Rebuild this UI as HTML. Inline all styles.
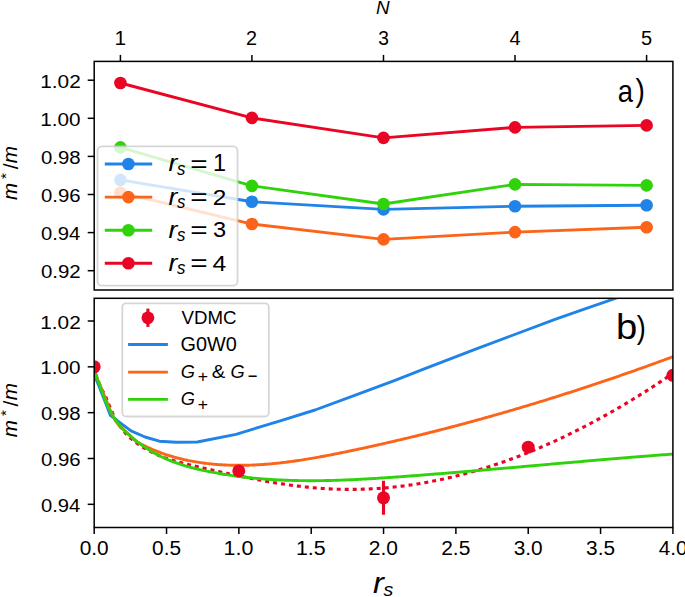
<!DOCTYPE html><html><head><meta charset="utf-8"><style>html,body{margin:0;padding:0;background:#fff;overflow:hidden}svg{display:block}</style></head><body><svg width="685" height="597" viewBox="0 0 685 597">
<rect width="685" height="597" fill="#fff"/>
<defs><clipPath id="ct"><rect x="94.20" y="61.40" width="578.70" height="228.60"/></clipPath>
<clipPath id="cb"><rect x="94.20" y="298.30" width="578.70" height="229.20"/></clipPath></defs>
<g clip-path="url(#ct)">
<polyline points="120.40,179.85 251.90,201.80 383.50,209.40 515.00,206.30 646.60,205.30" fill="none" stroke="#2083e8" stroke-width="2.9" stroke-linejoin="round" stroke-linecap="butt"/>
<circle cx="120.40" cy="179.85" r="6.3" fill="#2083e8"/>
<circle cx="251.90" cy="201.80" r="6.3" fill="#2083e8"/>
<circle cx="383.50" cy="209.40" r="6.3" fill="#2083e8"/>
<circle cx="515.00" cy="206.30" r="6.3" fill="#2083e8"/>
<circle cx="646.60" cy="205.30" r="6.3" fill="#2083e8"/>
<polyline points="120.40,192.50 251.90,224.05 383.50,239.40 515.00,232.10 646.60,227.30" fill="none" stroke="#fc6419" stroke-width="2.9" stroke-linejoin="round" stroke-linecap="butt"/>
<circle cx="120.40" cy="192.50" r="6.3" fill="#fc6419"/>
<circle cx="251.90" cy="224.05" r="6.3" fill="#fc6419"/>
<circle cx="383.50" cy="239.40" r="6.3" fill="#fc6419"/>
<circle cx="515.00" cy="232.10" r="6.3" fill="#fc6419"/>
<circle cx="646.60" cy="227.30" r="6.3" fill="#fc6419"/>
<polyline points="120.40,147.35 251.90,185.85 383.50,203.95 515.00,184.40 646.60,185.40" fill="none" stroke="#30d20c" stroke-width="2.9" stroke-linejoin="round" stroke-linecap="butt"/>
<circle cx="120.40" cy="147.35" r="6.3" fill="#30d20c"/>
<circle cx="251.90" cy="185.85" r="6.3" fill="#30d20c"/>
<circle cx="383.50" cy="203.95" r="6.3" fill="#30d20c"/>
<circle cx="515.00" cy="184.40" r="6.3" fill="#30d20c"/>
<circle cx="646.60" cy="185.40" r="6.3" fill="#30d20c"/>
<polyline points="120.40,83.00 251.90,117.90 383.50,137.90 515.00,127.40 646.60,125.40" fill="none" stroke="#ea0524" stroke-width="2.9" stroke-linejoin="round" stroke-linecap="butt"/>
<circle cx="120.40" cy="83.00" r="6.3" fill="#ea0524"/>
<circle cx="251.90" cy="117.90" r="6.3" fill="#ea0524"/>
<circle cx="383.50" cy="137.90" r="6.3" fill="#ea0524"/>
<circle cx="515.00" cy="127.40" r="6.3" fill="#ea0524"/>
<circle cx="646.60" cy="125.40" r="6.3" fill="#ea0524"/>
</g>
<rect x="97.5" y="146.4" width="140.00" height="139.30" rx="4.4" ry="4.4" fill="#fff" fill-opacity="0.8" stroke="#cccccc" stroke-opacity="0.8" stroke-width="1.8"/>
<line x1="104.8" y1="164.05" x2="152.2" y2="164.05" stroke="#2083e8" stroke-width="2.9"/>
<circle cx="128.4" cy="164.05" r="6.3" fill="#2083e8"/>
<text transform="translate(168.40,171.45) scale(1.1388,1)" style="font-family:'Liberation Sans',sans-serif;font-style:italic;font-size:23.33px" fill="#000">r</text>
<text transform="translate(176.92,174.97) scale(0.9366,1)" style="font-family:'Liberation Sans',sans-serif;font-style:italic;font-size:17.98px" fill="#000">s</text>
<text transform="translate(190.26,171.83) scale(1.2712,1)" style="font-family:'Liberation Sans',sans-serif;font-size:23.44px" fill="#000">=</text>
<text transform="translate(212.94,171.45) scale(1.0129,1)" style="font-family:'Liberation Sans',sans-serif;font-size:23.19px" fill="#000">1</text>
<line x1="104.8" y1="197.12" x2="152.2" y2="197.12" stroke="#fc6419" stroke-width="2.9"/>
<circle cx="128.4" cy="197.12" r="6.3" fill="#fc6419"/>
<text transform="translate(168.40,204.52) scale(1.1388,1)" style="font-family:'Liberation Sans',sans-serif;font-style:italic;font-size:23.33px" fill="#000">r</text>
<text transform="translate(176.92,208.04) scale(0.9366,1)" style="font-family:'Liberation Sans',sans-serif;font-style:italic;font-size:17.98px" fill="#000">s</text>
<text transform="translate(190.26,204.90) scale(1.2712,1)" style="font-family:'Liberation Sans',sans-serif;font-size:23.44px" fill="#000">=</text>
<text transform="translate(212.68,204.52) scale(1.0947,1)" style="font-family:'Liberation Sans',sans-serif;font-size:22.29px" fill="#000">2</text>
<line x1="104.8" y1="230.19" x2="152.2" y2="230.19" stroke="#30d20c" stroke-width="2.9"/>
<circle cx="128.4" cy="230.19" r="6.3" fill="#30d20c"/>
<text transform="translate(168.40,237.59) scale(1.1388,1)" style="font-family:'Liberation Sans',sans-serif;font-style:italic;font-size:23.33px" fill="#000">r</text>
<text transform="translate(176.92,241.11) scale(0.9366,1)" style="font-family:'Liberation Sans',sans-serif;font-style:italic;font-size:17.98px" fill="#000">s</text>
<text transform="translate(190.26,237.97) scale(1.2712,1)" style="font-family:'Liberation Sans',sans-serif;font-size:23.44px" fill="#000">=</text>
<text transform="translate(212.96,237.37) scale(1.0749,1)" style="font-family:'Liberation Sans',sans-serif;font-size:21.97px" fill="#000">3</text>
<line x1="104.8" y1="263.26" x2="152.2" y2="263.26" stroke="#ea0524" stroke-width="2.9"/>
<circle cx="128.4" cy="263.26" r="6.3" fill="#ea0524"/>
<text transform="translate(168.40,270.66) scale(1.1388,1)" style="font-family:'Liberation Sans',sans-serif;font-style:italic;font-size:23.33px" fill="#000">r</text>
<text transform="translate(176.92,274.18) scale(0.9366,1)" style="font-family:'Liberation Sans',sans-serif;font-style:italic;font-size:17.98px" fill="#000">s</text>
<text transform="translate(190.26,271.04) scale(1.2712,1)" style="font-family:'Liberation Sans',sans-serif;font-size:23.44px" fill="#000">=</text>
<text transform="translate(212.58,270.66) scale(1.0969,1)" style="font-family:'Liberation Sans',sans-serif;font-size:22.61px" fill="#000">4</text>
<text transform="translate(617.66,102.40) scale(0.9014,1)" style="font-family:'Liberation Sans',sans-serif;font-size:30.45px" fill="#000">a</text>
<text transform="translate(635.42,100.83) scale(0.8839,1)" style="font-family:'Liberation Sans',sans-serif;font-size:31.76px" fill="#000">)</text>
<g clip-path="url(#cb)">
<path d="M94.20,366.80 L96.50,376.50 L99.50,384.50 L102.30,390.50 L104.90,394.44 L106.40,398.38 L107.90,402.19 L109.40,405.85 L110.90,409.35 L112.40,412.67 L113.90,415.80 L115.40,418.72 L116.90,421.42 L118.40,423.92 L119.90,426.22 L121.40,428.35 L122.90,430.30 L124.40,432.11 L125.90,433.79 L127.40,435.33 L128.90,436.78 L130.40,438.12 L131.90,439.39 L133.40,440.59 L134.90,441.73 L136.40,442.84 L137.90,443.91 L139.40,444.94 L140.90,445.94 L142.40,446.90 L143.90,447.83 L145.40,448.72 L146.90,449.58 L148.40,450.42 L149.90,451.22 L151.40,451.99 L152.90,452.74 L154.40,453.46 L155.90,454.15 L157.40,454.82 L158.90,455.46 L160.40,456.08 L161.90,456.68 L163.40,457.25 L164.90,457.81 L166.40,458.34 L167.90,458.86 L169.40,459.36 L170.90,459.85 L172.40,460.31 L173.90,460.77 L175.40,461.21 L176.90,461.63 L178.40,462.05 L179.90,462.45 L181.40,462.84 L182.90,463.23 L184.40,463.60 L185.90,463.97 L187.40,464.34 L188.90,464.70 L190.40,465.05 L191.90,465.40 L193.40,465.75 L194.90,466.09 L196.40,466.44 L197.90,466.79 L199.40,467.13 L200.90,467.48 L202.40,467.82 L203.90,468.17 L205.40,468.51 L206.90,468.86 L208.40,469.20 L209.90,469.54 L211.40,469.88 L212.90,470.22 L214.40,470.56 L215.90,470.90 L217.40,471.24 L218.90,471.58 L220.40,471.91 L221.90,472.24 L223.40,472.58 L224.90,472.91 L226.40,473.24 L227.90,473.57 L229.40,473.90 L230.90,474.22 L232.40,474.54 L233.90,474.87 L235.40,475.19 L236.90,475.50 L238.40,475.82 L239.90,476.14 L241.40,476.45 L242.90,476.76 L244.40,477.07 L245.90,477.37 L247.40,477.68 L248.90,477.98 L250.40,478.28 L251.90,478.57 L253.40,478.86 L254.90,479.16 L256.40,479.44 L257.90,479.73 L259.40,480.01 L260.90,480.29 L262.40,480.57 L263.90,480.84 L265.40,481.11 L266.90,481.38 L268.40,481.64 L269.90,481.90 L271.40,482.16 L272.90,482.41 L274.40,482.67 L275.90,482.91 L277.40,483.16 L278.90,483.39 L280.40,483.63 L281.90,483.86 L283.40,484.09 L284.90,484.31 L286.40,484.54 L287.90,484.75 L289.40,484.96 L290.90,485.17 L292.40,485.37 L293.90,485.57 L295.40,485.77 L296.90,485.96 L298.40,486.14 L299.90,486.33 L301.40,486.50 L302.90,486.67 L304.40,486.84 L305.90,487.00 L307.40,487.16 L308.90,487.31 L310.40,487.46 L311.90,487.60 L313.40,487.74 L314.90,487.87 L316.40,488.00 L317.90,488.12 L319.40,488.23 L320.90,488.34 L322.40,488.45 L323.90,488.55 L325.40,488.64 L326.90,488.73 L328.40,488.81 L329.90,488.89 L331.40,488.96 L332.90,489.02 L334.40,489.08 L335.90,489.14 L337.40,489.18 L338.90,489.23 L340.40,489.27 L341.90,489.30 L343.40,489.32 L344.90,489.35 L346.40,489.36 L347.90,489.37 L349.40,489.38 L350.90,489.37 L352.40,489.37 L353.90,489.36 L355.40,489.34 L356.90,489.32 L358.40,489.29 L359.90,489.25 L361.40,489.22 L362.90,489.17 L364.40,489.12 L365.90,489.07 L367.40,489.01 L368.90,488.94 L370.40,488.87 L371.90,488.79 L373.40,488.71 L374.90,488.62 L376.40,488.53 L377.90,488.43 L379.40,488.33 L380.90,488.22 L382.40,488.10 L383.90,487.98 L385.40,487.86 L386.90,487.73 L388.40,487.59 L389.90,487.45 L391.40,487.30 L392.90,487.15 L394.40,486.99 L395.90,486.83 L397.40,486.66 L398.90,486.49 L400.40,486.31 L401.90,486.13 L403.40,485.94 L404.90,485.75 L406.40,485.55 L407.90,485.34 L409.40,485.14 L410.90,484.92 L412.40,484.70 L413.90,484.48 L415.40,484.25 L416.90,484.01 L418.40,483.77 L419.90,483.52 L421.40,483.27 L422.90,483.02 L424.40,482.75 L425.90,482.49 L427.40,482.22 L428.90,481.94 L430.40,481.66 L431.90,481.37 L433.40,481.08 L434.90,480.78 L436.40,480.48 L437.90,480.17 L439.40,479.86 L440.90,479.54 L442.40,479.22 L443.90,478.89 L445.40,478.56 L446.90,478.22 L448.40,477.88 L449.90,477.53 L451.40,477.18 L452.90,476.82 L454.40,476.46 L455.90,476.09 L457.40,475.71 L458.90,475.34 L460.40,474.95 L461.90,474.56 L463.40,474.17 L464.90,473.77 L466.40,473.37 L467.90,472.96 L469.40,472.55 L470.90,472.13 L472.40,471.71 L473.90,471.28 L475.40,470.85 L476.90,470.41 L478.40,469.97 L479.90,469.52 L481.40,469.07 L482.90,468.61 L484.40,468.15 L485.90,467.68 L487.40,467.21 L488.90,466.73 L490.40,466.25 L491.90,465.77 L493.40,465.27 L494.90,464.78 L496.40,464.28 L497.90,463.77 L499.40,463.26 L500.90,462.74 L502.40,462.22 L503.90,461.70 L505.40,461.17 L506.90,460.63 L508.40,460.10 L509.90,459.55 L511.40,459.00 L512.90,458.45 L514.40,457.89 L515.90,457.33 L517.40,456.76 L518.90,456.19 L520.40,455.61 L521.90,455.03 L523.40,454.44 L524.90,453.85 L526.40,453.25 L527.90,452.65 L529.40,452.04 L530.90,451.43 L532.40,450.82 L533.90,450.20 L535.40,449.57 L536.90,448.95 L538.40,448.31 L539.90,447.67 L541.40,447.03 L542.90,446.38 L544.40,445.73 L545.90,445.07 L547.40,444.41 L548.90,443.75 L550.40,443.08 L551.90,442.40 L553.40,441.72 L554.90,441.04 L556.40,440.35 L557.90,439.65 L559.40,438.95 L560.90,438.25 L562.40,437.54 L563.90,436.83 L565.40,436.12 L566.90,435.40 L568.40,434.67 L569.90,433.94 L571.40,433.21 L572.90,432.47 L574.40,431.72 L575.90,430.98 L577.40,430.22 L578.90,429.47 L580.40,428.71 L581.90,427.94 L583.40,427.17 L584.90,426.40 L586.40,425.62 L587.90,424.83 L589.40,424.05 L590.90,423.25 L592.40,422.46 L593.90,421.66 L595.40,420.85 L596.90,420.04 L598.40,419.23 L599.90,418.41 L601.40,417.58 L602.90,416.76 L604.40,415.92 L605.90,415.09 L607.40,414.25 L608.90,413.40 L610.40,412.55 L611.90,411.70 L613.40,410.84 L614.90,409.98 L616.40,409.11 L617.90,408.24 L619.40,407.37 L620.90,406.49 L622.40,405.61 L623.90,404.72 L625.40,403.83 L626.90,402.93 L628.40,402.03 L629.90,401.12 L631.40,400.22 L632.90,399.30 L634.40,398.39 L635.90,397.46 L637.40,396.54 L638.90,395.61 L640.40,394.67 L641.90,393.73 L643.40,392.79 L644.90,391.85 L646.40,390.89 L647.90,389.94 L649.40,388.98 L650.90,388.02 L652.40,387.05 L653.90,386.08 L655.40,385.10 L656.90,384.12 L658.40,383.14 L659.90,382.15 L661.40,381.16 L662.90,380.16 L664.40,379.16 L665.90,378.15 L667.40,377.15 L668.90,376.13 L670.40,375.12 L671.90,374.09 L673.40,373.07 L674.90,372.04" fill="none" stroke="#ea0524" stroke-width="3.1" stroke-dasharray="4 4"/>
<path d="M94.20,366.80 L95.00,373.50 L96.50,380.30 L99.20,386.70 L101.85,393.40 L104.50,400.10 L107.10,406.80 L109.50,413.00 L110.30,415.30 L131.00,430.90 L145.05,437.00 L159.30,441.20 L176.10,442.20 L197.30,442.00 L236.00,434.30 L281.00,420.70 L315.00,410.00 L354.70,395.40 L395.00,380.30 L423.00,369.45 L475.00,349.40 L514.70,334.50 L555.00,319.30 L582.80,309.70 L613.10,299.20 L640.00,290.00" fill="none" stroke="#2083e8" stroke-width="2.9" stroke-linejoin="round"/>
<path d="M94.20,366.80 L95.30,373.00 L96.50,376.80 L98.00,380.30 L100.70,386.70 L103.40,393.40 L106.10,400.10 L108.80,406.80 L111.50,413.20 L115.10,420.30 L119.00,425.30 L124.00,430.00 L130.00,435.30 L136.00,441.38 L137.50,442.20 L139.00,443.01 L140.50,443.79 L142.00,444.56 L143.50,445.31 L145.00,446.05 L146.50,446.76 L148.00,447.46 L149.50,448.14 L151.00,448.81 L152.50,449.46 L154.00,450.09 L155.50,450.70 L157.00,451.30 L158.50,451.89 L160.00,452.46 L161.50,453.01 L163.00,453.55 L164.50,454.07 L166.00,454.58 L167.50,455.07 L169.00,455.55 L170.50,456.01 L172.00,456.46 L173.50,456.90 L175.00,457.32 L176.50,457.73 L178.00,458.13 L179.50,458.51 L181.00,458.88 L182.50,459.24 L184.00,459.59 L185.50,459.92 L187.00,460.24 L188.50,460.55 L190.00,460.85 L191.50,461.14 L193.00,461.41 L194.50,461.68 L196.00,461.93 L197.50,462.18 L199.00,462.41 L200.50,462.63 L202.00,462.84 L203.50,463.05 L205.00,463.24 L206.50,463.43 L208.00,463.60 L209.50,463.77 L211.00,463.92 L212.50,464.07 L214.00,464.21 L215.50,464.34 L217.00,464.46 L218.50,464.58 L220.00,464.68 L221.50,464.78 L223.00,464.87 L224.50,464.95 L226.00,465.02 L227.50,465.08 L229.00,465.14 L230.50,465.19 L232.00,465.23 L233.50,465.26 L235.00,465.29 L236.50,465.31 L238.00,465.32 L239.50,465.32 L241.00,465.31 L242.50,465.30 L244.00,465.28 L245.50,465.26 L247.00,465.23 L248.50,465.19 L250.00,465.14 L251.50,465.09 L253.00,465.03 L254.50,464.96 L256.00,464.89 L257.50,464.81 L259.00,464.72 L260.50,464.63 L262.00,464.53 L263.50,464.43 L265.00,464.32 L266.50,464.20 L268.00,464.08 L269.50,463.95 L271.00,463.82 L272.50,463.68 L274.00,463.54 L275.50,463.39 L277.00,463.23 L278.50,463.07 L280.00,462.91 L281.50,462.74 L283.00,462.56 L284.50,462.38 L286.00,462.20 L287.50,462.01 L289.00,461.81 L290.50,461.61 L292.00,461.41 L293.50,461.20 L295.00,460.99 L296.50,460.77 L298.00,460.55 L299.50,460.33 L301.00,460.10 L302.50,459.87 L304.00,459.63 L305.50,459.39 L307.00,459.15 L308.50,458.90 L310.00,458.65 L311.50,458.40 L313.00,458.14 L314.50,457.88 L316.00,457.61 L317.50,457.35 L319.00,457.08 L320.50,456.80 L322.00,456.53 L323.50,456.25 L325.00,455.97 L326.50,455.68 L328.00,455.40 L329.50,455.11 L331.00,454.82 L332.50,454.52 L334.00,454.23 L335.50,453.93 L337.00,453.63 L338.50,453.33 L340.00,453.03 L341.50,452.72 L343.00,452.41 L344.50,452.11 L346.00,451.80 L347.50,451.48 L349.00,451.17 L350.50,450.86 L352.00,450.54 L353.50,450.23 L355.00,449.91 L356.50,449.59 L358.00,449.27 L359.50,448.95 L361.00,448.63 L362.50,448.30 L364.00,447.98 L365.50,447.65 L367.00,447.32 L368.50,446.99 L370.00,446.67 L371.50,446.33 L373.00,446.00 L374.50,445.67 L376.00,445.34 L377.50,445.00 L379.00,444.66 L380.50,444.32 L382.00,443.99 L383.50,443.65 L385.00,443.30 L386.50,442.96 L388.00,442.62 L389.50,442.27 L391.00,441.93 L392.50,441.58 L394.00,441.23 L395.50,440.88 L397.00,440.53 L398.50,440.18 L400.00,439.82 L401.50,439.47 L403.00,439.11 L404.50,438.76 L406.00,438.40 L407.50,438.04 L409.00,437.68 L410.50,437.32 L412.00,436.96 L413.50,436.59 L415.00,436.23 L416.50,435.86 L418.00,435.49 L419.50,435.13 L421.00,434.76 L422.50,434.39 L424.00,434.01 L425.50,433.64 L427.00,433.27 L428.50,432.89 L430.00,432.51 L431.50,432.14 L433.00,431.76 L434.50,431.38 L436.00,431.00 L437.50,430.61 L439.00,430.23 L440.50,429.85 L442.00,429.46 L443.50,429.07 L445.00,428.68 L446.50,428.30 L448.00,427.91 L449.50,427.51 L451.00,427.12 L452.50,426.73 L454.00,426.33 L455.50,425.94 L457.00,425.54 L458.50,425.14 L460.00,424.74 L461.50,424.34 L463.00,423.94 L464.50,423.53 L466.00,423.13 L467.50,422.72 L469.00,422.32 L470.50,421.91 L472.00,421.50 L473.50,421.09 L475.00,420.68 L476.50,420.27 L478.00,419.86 L479.50,419.44 L481.00,419.03 L482.50,418.61 L484.00,418.19 L485.50,417.77 L487.00,417.35 L488.50,416.93 L490.00,416.51 L491.50,416.08 L493.00,415.66 L494.50,415.23 L496.00,414.81 L497.50,414.38 L499.00,413.95 L500.50,413.52 L502.00,413.09 L503.50,412.65 L505.00,412.22 L506.50,411.79 L508.00,411.35 L509.50,410.91 L511.00,410.47 L512.50,410.04 L514.00,409.60 L515.50,409.15 L517.00,408.71 L518.50,408.27 L520.00,407.82 L521.50,407.38 L523.00,406.93 L524.50,406.48 L526.00,406.03 L527.50,405.58 L529.00,405.13 L530.50,404.68 L532.00,404.22 L533.50,403.77 L535.00,403.31 L536.50,402.85 L538.00,402.40 L539.50,401.94 L541.00,401.48 L542.50,401.01 L544.00,400.55 L545.50,400.09 L547.00,399.62 L548.50,399.16 L550.00,398.69 L551.50,398.22 L553.00,397.75 L554.50,397.28 L556.00,396.81 L557.50,396.34 L559.00,395.86 L560.50,395.39 L562.00,394.91 L563.50,394.44 L565.00,393.96 L566.50,393.48 L568.00,393.00 L569.50,392.52 L571.00,392.03 L572.50,391.55 L574.00,391.07 L575.50,390.58 L577.00,390.09 L578.50,389.61 L580.00,389.12 L581.50,388.63 L583.00,388.14 L584.50,387.64 L586.00,387.15 L587.50,386.66 L589.00,386.16 L590.50,385.66 L592.00,385.17 L593.50,384.67 L595.00,384.17 L596.50,383.67 L598.00,383.16 L599.50,382.66 L601.00,382.16 L602.50,381.65 L604.00,381.14 L605.50,380.64 L607.00,380.13 L608.50,379.62 L610.00,379.11 L611.50,378.60 L613.00,378.08 L614.50,377.57 L616.00,377.05 L617.50,376.54 L619.00,376.02 L620.50,375.50 L622.00,374.98 L623.50,374.46 L625.00,373.94 L626.50,373.42 L628.00,372.90 L629.50,372.37 L631.00,371.85 L632.50,371.32 L634.00,370.79 L635.50,370.26 L637.00,369.73 L638.50,369.20 L640.00,368.67 L641.50,368.14 L643.00,367.60 L644.50,367.07 L646.00,366.53 L647.50,365.99 L649.00,365.45 L650.50,364.92 L652.00,364.37 L653.50,363.83 L655.00,363.29 L656.50,362.75 L658.00,362.20 L659.50,361.66 L661.00,361.11 L662.50,360.56 L664.00,360.01 L665.50,359.46 L667.00,358.91 L668.50,358.36 L670.00,357.81 L671.50,357.25 L673.00,356.70 L674.50,356.14 L676.00,355.58 L677.50,355.03 L679.00,354.47" fill="none" stroke="#fc6419" stroke-width="2.9" stroke-linejoin="round"/>
<path d="M94.20,366.80 L95.00,373.00 L96.20,376.80 L97.70,380.30 L99.00,382.44 L100.50,387.18 L102.00,391.61 L103.50,395.74 L105.00,399.59 L106.50,403.17 L108.00,406.51 L109.50,409.60 L111.00,412.47 L112.50,415.14 L114.00,417.61 L115.50,419.91 L117.00,422.04 L118.50,424.02 L120.00,425.86 L121.50,427.59 L123.00,429.21 L124.50,430.74 L126.00,432.20 L127.50,433.59 L129.00,434.94 L130.50,436.25 L132.00,437.53 L133.50,438.78 L135.00,439.99 L136.50,441.18 L138.00,442.33 L139.50,443.45 L141.00,444.55 L142.50,445.61 L144.00,446.64 L145.50,447.65 L147.00,448.63 L148.50,449.58 L150.00,450.50 L151.50,451.40 L153.00,452.28 L154.50,453.12 L156.00,453.95 L157.50,454.75 L159.00,455.52 L160.50,456.28 L162.00,457.01 L163.50,457.72 L165.00,458.40 L166.50,459.07 L168.00,459.72 L169.50,460.34 L171.00,460.95 L172.50,461.54 L174.00,462.11 L175.50,462.67 L177.00,463.20 L178.50,463.72 L180.00,464.23 L181.50,464.72 L183.00,465.19 L184.50,465.65 L186.00,466.10 L187.50,466.53 L189.00,466.95 L190.50,467.35 L192.00,467.75 L193.50,468.14 L195.00,468.51 L196.50,468.87 L198.00,469.23 L199.50,469.57 L201.00,469.91 L202.50,470.24 L204.00,470.56 L205.50,470.88 L207.00,471.19 L208.50,471.49 L210.00,471.79 L211.50,472.08 L213.00,472.36 L214.50,472.64 L216.00,472.92 L217.50,473.19 L219.00,473.45 L220.50,473.71 L222.00,473.96 L223.50,474.21 L225.00,474.45 L226.50,474.69 L228.00,474.92 L229.50,475.14 L231.00,475.36 L232.50,475.58 L234.00,475.79 L235.50,476.00 L237.00,476.20 L238.50,476.39 L240.00,476.58 L241.50,476.77 L243.00,476.95 L244.50,477.13 L246.00,477.30 L247.50,477.46 L249.00,477.62 L250.50,477.78 L252.00,477.93 L253.50,478.08 L255.00,478.22 L256.50,478.36 L258.00,478.50 L259.50,478.63 L261.00,478.75 L262.50,478.87 L264.00,478.99 L265.50,479.10 L267.00,479.21 L268.50,479.32 L270.00,479.42 L271.50,479.51 L273.00,479.60 L274.50,479.69 L276.00,479.78 L277.50,479.86 L279.00,479.93 L280.50,480.00 L282.00,480.07 L283.50,480.14 L285.00,480.20 L286.50,480.25 L288.00,480.31 L289.50,480.36 L291.00,480.40 L292.50,480.44 L294.00,480.48 L295.50,480.52 L297.00,480.55 L298.50,480.58 L300.00,480.60 L301.50,480.63 L303.00,480.64 L304.50,480.66 L306.00,480.67 L307.50,480.68 L309.00,480.69 L310.50,480.69 L312.00,480.69 L313.50,480.69 L315.00,480.68 L316.50,480.67 L318.00,480.66 L319.50,480.64 L321.00,480.63 L322.50,480.61 L324.00,480.58 L325.50,480.56 L327.00,480.53 L328.50,480.50 L330.00,480.46 L331.50,480.43 L333.00,480.39 L334.50,480.35 L336.00,480.30 L337.50,480.26 L339.00,480.21 L340.50,480.16 L342.00,480.11 L343.50,480.05 L345.00,479.99 L346.50,479.94 L348.00,479.87 L349.50,479.81 L351.00,479.74 L352.50,479.68 L354.00,479.61 L355.50,479.54 L357.00,479.46 L358.50,479.39 L360.00,479.31 L361.50,479.23 L363.00,479.15 L364.50,479.07 L366.00,478.99 L367.50,478.90 L369.00,478.82 L370.50,478.73 L372.00,478.64 L373.50,478.55 L375.00,478.46 L376.50,478.36 L378.00,478.27 L379.50,478.17 L381.00,478.07 L382.50,477.98 L384.00,477.88 L385.50,477.78 L387.00,477.67 L388.50,477.57 L390.00,477.47 L391.50,477.36 L393.00,477.26 L394.50,477.15 L396.00,477.04 L397.50,476.94 L399.00,476.83 L400.50,476.72 L402.00,476.61 L403.50,476.50 L405.00,476.38 L406.50,476.27 L408.00,476.16 L409.50,476.05 L411.00,475.93 L412.50,475.82 L414.00,475.71 L415.50,475.59 L417.00,475.48 L418.50,475.36 L420.00,475.24 L421.50,475.13 L423.00,475.01 L424.50,474.89 L426.00,474.78 L427.50,474.66 L429.00,474.54 L430.50,474.42 L432.00,474.30 L433.50,474.18 L435.00,474.06 L436.50,473.94 L438.00,473.82 L439.50,473.70 L441.00,473.58 L442.50,473.46 L444.00,473.34 L445.50,473.22 L447.00,473.09 L448.50,472.97 L450.00,472.85 L451.50,472.72 L453.00,472.60 L454.50,472.48 L456.00,472.35 L457.50,472.23 L459.00,472.10 L460.50,471.98 L462.00,471.85 L463.50,471.73 L465.00,471.60 L466.50,471.48 L468.00,471.35 L469.50,471.22 L471.00,471.10 L472.50,470.97 L474.00,470.84 L475.50,470.72 L477.00,470.59 L478.50,470.46 L480.00,470.33 L481.50,470.20 L483.00,470.08 L484.50,469.95 L486.00,469.82 L487.50,469.69 L489.00,469.56 L490.50,469.43 L492.00,469.30 L493.50,469.17 L495.00,469.04 L496.50,468.91 L498.00,468.78 L499.50,468.65 L501.00,468.52 L502.50,468.39 L504.00,468.26 L505.50,468.13 L507.00,468.00 L508.50,467.87 L510.00,467.74 L511.50,467.61 L513.00,467.48 L514.50,467.34 L516.00,467.21 L517.50,467.08 L519.00,466.95 L520.50,466.82 L522.00,466.69 L523.50,466.56 L525.00,466.42 L526.50,466.29 L528.00,466.16 L529.50,466.03 L531.00,465.90 L532.50,465.76 L534.00,465.63 L535.50,465.50 L537.00,465.37 L538.50,465.24 L540.00,465.11 L541.50,464.97 L543.00,464.84 L544.50,464.71 L546.00,464.58 L547.50,464.45 L549.00,464.32 L550.50,464.18 L552.00,464.05 L553.50,463.92 L555.00,463.79 L556.50,463.66 L558.00,463.53 L559.50,463.39 L561.00,463.26 L562.50,463.13 L564.00,463.00 L565.50,462.87 L567.00,462.74 L568.50,462.61 L570.00,462.48 L571.50,462.35 L573.00,462.22 L574.50,462.09 L576.00,461.96 L577.50,461.83 L579.00,461.70 L580.50,461.57 L582.00,461.44 L583.50,461.31 L585.00,461.18 L586.50,461.05 L588.00,460.92 L589.50,460.79 L591.00,460.66 L592.50,460.54 L594.00,460.41 L595.50,460.28 L597.00,460.15 L598.50,460.02 L600.00,459.90 L601.50,459.77 L603.00,459.64 L604.50,459.52 L606.00,459.39 L607.50,459.26 L609.00,459.14 L610.50,459.01 L612.00,458.89 L613.50,458.76 L615.00,458.64 L616.50,458.51 L618.00,458.39 L619.50,458.26 L621.00,458.14 L622.50,458.02 L624.00,457.89 L625.50,457.77 L627.00,457.65 L628.50,457.53 L630.00,457.40 L631.50,457.28 L633.00,457.16 L634.50,457.04 L636.00,456.92 L637.50,456.80 L639.00,456.68 L640.50,456.56 L642.00,456.44 L643.50,456.32 L645.00,456.20 L646.50,456.08 L648.00,455.97 L649.50,455.85 L651.00,455.73 L652.50,455.62 L654.00,455.50 L655.50,455.38 L657.00,455.27 L658.50,455.15 L660.00,455.04 L661.50,454.92 L663.00,454.81 L664.50,454.70 L666.00,454.58 L667.50,454.47 L669.00,454.36 L670.50,454.25 L672.00,454.14 L673.50,454.03 L675.00,453.92 L676.50,453.81 L678.00,453.70 L679.50,453.59" fill="none" stroke="#30d20c" stroke-width="2.9" stroke-linejoin="round"/>
<circle cx="94.2" cy="366.8" r="6.5" fill="#ea0524"/>
<circle cx="238.8" cy="470.9" r="6.5" fill="#ea0524"/>
<line x1="383.5" y1="480.80" x2="383.5" y2="514.80" stroke="#ea0524" stroke-width="3.1"/>
<circle cx="383.5" cy="497.8" r="6.5" fill="#ea0524"/>
<circle cx="528.2" cy="447.2" r="6.5" fill="#ea0524"/>
<circle cx="672.9" cy="375.3" r="6.5" fill="#ea0524"/>
</g>
<rect x="122.3" y="303.4" width="146.50" height="113.10" rx="3.7" ry="3.7" fill="#fff" fill-opacity="0.8" stroke="#cccccc" stroke-opacity="0.8" stroke-width="1.8"/>
<line x1="147.9" y1="308.6" x2="147.9" y2="326.9" stroke="#ea0524" stroke-width="3.1"/>
<circle cx="147.9" cy="317.8" r="6.4" fill="#ea0524"/>
<line x1="128.1" y1="344.5" x2="167.9" y2="344.5" stroke="#2083e8" stroke-width="2.9"/>
<line x1="128.1" y1="372.1" x2="167.9" y2="372.1" stroke="#fc6419" stroke-width="2.9"/>
<line x1="128.1" y1="399.4" x2="167.9" y2="399.4" stroke="#30d20c" stroke-width="2.9"/>
<text transform="translate(181.51,324.21) scale(0.9828,1)" style="font-family:'Liberation Sans',sans-serif;font-size:19.01px" fill="#000">VDMC</text>
<text transform="translate(180.61,350.81) scale(1.0215,1)" style="font-family:'Liberation Sans',sans-serif;font-size:19.44px" fill="#000">G0W0</text>
<text transform="translate(180.69,377.82) scale(0.9890,1)" style="font-family:'Liberation Sans',sans-serif;font-style:italic;font-size:18.45px" fill="#000">G</text>
<text transform="translate(197.77,382.05) scale(1.0934,1)" style="font-family:'Liberation Sans',sans-serif;font-size:16.12px" fill="#000">+</text>
<text transform="translate(211.69,377.81) scale(1.0861,1)" style="font-family:'Liberation Sans',sans-serif;font-size:18.71px" fill="#000">&amp;</text>
<text transform="translate(230.59,377.82) scale(0.9890,1)" style="font-family:'Liberation Sans',sans-serif;font-style:italic;font-size:18.45px" fill="#000">G</text>
<text transform="translate(247.76,383.66) scale(0.7307,1)" style="font-family:'Liberation Sans',sans-serif;font-size:22.86px" fill="#000">−</text>
<text transform="translate(180.69,404.72) scale(1.0365,1)" style="font-family:'Liberation Sans',sans-serif;font-style:italic;font-size:17.61px" fill="#000">G</text>
<text transform="translate(197.77,409.65) scale(1.0934,1)" style="font-family:'Liberation Sans',sans-serif;font-size:16.12px" fill="#000">+</text>
<text transform="translate(616.12,338.75) scale(1.1060,1)" style="font-family:'Liberation Sans',sans-serif;font-size:34.56px" fill="#000">b</text>
<text transform="translate(636.78,337.51) scale(0.8508,1)" style="font-family:'Liberation Sans',sans-serif;font-size:31.87px" fill="#000">)</text>
<rect x="94.2" y="61.4" width="578.70" height="228.60" stroke="#000" stroke-width="1.5" fill="none"/>
<rect x="94.2" y="298.3" width="578.70" height="229.20" stroke="#000" stroke-width="1.5" fill="none"/>
<line x1="120.4" y1="61.4" x2="120.4" y2="54.9" stroke="#000" stroke-width="1.5" fill="none"/>
<line x1="251.9" y1="61.4" x2="251.9" y2="54.9" stroke="#000" stroke-width="1.5" fill="none"/>
<line x1="383.5" y1="61.4" x2="383.5" y2="54.9" stroke="#000" stroke-width="1.5" fill="none"/>
<line x1="515.0" y1="61.4" x2="515.0" y2="54.9" stroke="#000" stroke-width="1.5" fill="none"/>
<line x1="646.6" y1="61.4" x2="646.6" y2="54.9" stroke="#000" stroke-width="1.5" fill="none"/>
<text transform="translate(114.49,45.00) scale(1.0372,1)" style="font-family:'Liberation Sans',sans-serif;font-size:20.00px" fill="#000">1</text>
<text transform="translate(246.11,45.00) scale(0.9890,1)" style="font-family:'Liberation Sans',sans-serif;font-size:20.00px" fill="#000">2</text>
<text transform="translate(378.23,44.80) scale(0.9711,1)" style="font-family:'Liberation Sans',sans-serif;font-size:19.72px" fill="#000">3</text>
<text transform="translate(509.50,45.00) scale(0.9857,1)" style="font-family:'Liberation Sans',sans-serif;font-size:20.29px" fill="#000">4</text>
<text transform="translate(640.90,44.80) scale(1.0000,1)" style="font-family:'Liberation Sans',sans-serif;font-size:20.00px" fill="#000">5</text>
<line x1="94.2" y1="80.20" x2="87.7" y2="80.20" stroke="#000" stroke-width="1.5" fill="none"/>
<text transform="translate(40.24,87.71) scale(1.0832,1)" style="font-family:'Liberation Sans',sans-serif;font-size:19.23px" fill="#000">1.02</text>
<line x1="94.2" y1="118.30" x2="87.7" y2="118.30" stroke="#000" stroke-width="1.5" fill="none"/>
<text transform="translate(40.25,125.81) scale(1.0772,1)" style="font-family:'Liberation Sans',sans-serif;font-size:19.23px" fill="#000">1.00</text>
<line x1="94.2" y1="156.40" x2="87.7" y2="156.40" stroke="#000" stroke-width="1.5" fill="none"/>
<text transform="translate(40.99,163.91) scale(1.0570,1)" style="font-family:'Liberation Sans',sans-serif;font-size:19.23px" fill="#000">0.98</text>
<line x1="94.2" y1="194.50" x2="87.7" y2="194.50" stroke="#000" stroke-width="1.5" fill="none"/>
<text transform="translate(40.98,202.01) scale(1.0599,1)" style="font-family:'Liberation Sans',sans-serif;font-size:19.23px" fill="#000">0.96</text>
<line x1="94.2" y1="232.60" x2="87.7" y2="232.60" stroke="#000" stroke-width="1.5" fill="none"/>
<text transform="translate(40.99,240.11) scale(1.0514,1)" style="font-family:'Liberation Sans',sans-serif;font-size:19.23px" fill="#000">0.94</text>
<line x1="94.2" y1="270.70" x2="87.7" y2="270.70" stroke="#000" stroke-width="1.5" fill="none"/>
<text transform="translate(40.98,278.21) scale(1.0627,1)" style="font-family:'Liberation Sans',sans-serif;font-size:19.23px" fill="#000">0.92</text>
<line x1="94.2" y1="321.00" x2="87.7" y2="321.00" stroke="#000" stroke-width="1.5" fill="none"/>
<text transform="translate(40.24,328.51) scale(1.0832,1)" style="font-family:'Liberation Sans',sans-serif;font-size:19.23px" fill="#000">1.02</text>
<line x1="94.2" y1="366.83" x2="87.7" y2="366.83" stroke="#000" stroke-width="1.5" fill="none"/>
<text transform="translate(40.25,374.34) scale(1.0772,1)" style="font-family:'Liberation Sans',sans-serif;font-size:19.23px" fill="#000">1.00</text>
<line x1="94.2" y1="412.66" x2="87.7" y2="412.66" stroke="#000" stroke-width="1.5" fill="none"/>
<text transform="translate(40.99,420.17) scale(1.0570,1)" style="font-family:'Liberation Sans',sans-serif;font-size:19.23px" fill="#000">0.98</text>
<line x1="94.2" y1="458.49" x2="87.7" y2="458.49" stroke="#000" stroke-width="1.5" fill="none"/>
<text transform="translate(40.98,466.00) scale(1.0599,1)" style="font-family:'Liberation Sans',sans-serif;font-size:19.23px" fill="#000">0.96</text>
<line x1="94.2" y1="504.32" x2="87.7" y2="504.32" stroke="#000" stroke-width="1.5" fill="none"/>
<text transform="translate(40.99,511.83) scale(1.0514,1)" style="font-family:'Liberation Sans',sans-serif;font-size:19.23px" fill="#000">0.94</text>
<line x1="94.20" y1="527.5" x2="94.20" y2="534.0" stroke="#000" stroke-width="1.5" fill="none"/>
<text transform="translate(79.72,554.50) scale(1.0494,1)" style="font-family:'Liberation Sans',sans-serif;font-size:19.86px" fill="#000">0.0</text>
<line x1="166.54" y1="527.5" x2="166.54" y2="534.0" stroke="#000" stroke-width="1.5" fill="none"/>
<text transform="translate(152.05,554.50) scale(1.0494,1)" style="font-family:'Liberation Sans',sans-serif;font-size:19.86px" fill="#000">0.5</text>
<line x1="238.88" y1="527.5" x2="238.88" y2="534.0" stroke="#000" stroke-width="1.5" fill="none"/>
<text transform="translate(223.62,554.50) scale(1.0782,1)" style="font-family:'Liberation Sans',sans-serif;font-size:19.86px" fill="#000">1.0</text>
<line x1="311.21" y1="527.5" x2="311.21" y2="534.0" stroke="#000" stroke-width="1.5" fill="none"/>
<text transform="translate(295.96,554.50) scale(1.0630,1)" style="font-family:'Liberation Sans',sans-serif;font-size:20.14px" fill="#000">1.5</text>
<line x1="383.55" y1="527.5" x2="383.55" y2="534.0" stroke="#000" stroke-width="1.5" fill="none"/>
<text transform="translate(368.85,554.50) scale(1.0574,1)" style="font-family:'Liberation Sans',sans-serif;font-size:19.86px" fill="#000">2.0</text>
<line x1="455.89" y1="527.5" x2="455.89" y2="534.0" stroke="#000" stroke-width="1.5" fill="none"/>
<text transform="translate(441.19,554.50) scale(1.0574,1)" style="font-family:'Liberation Sans',sans-serif;font-size:19.86px" fill="#000">2.5</text>
<line x1="528.23" y1="527.5" x2="528.23" y2="534.0" stroke="#000" stroke-width="1.5" fill="none"/>
<text transform="translate(513.74,554.50) scale(1.0494,1)" style="font-family:'Liberation Sans',sans-serif;font-size:19.86px" fill="#000">3.0</text>
<line x1="600.56" y1="527.5" x2="600.56" y2="534.0" stroke="#000" stroke-width="1.5" fill="none"/>
<text transform="translate(586.08,554.50) scale(1.0494,1)" style="font-family:'Liberation Sans',sans-serif;font-size:19.86px" fill="#000">3.5</text>
<line x1="672.90" y1="527.5" x2="672.90" y2="534.0" stroke="#000" stroke-width="1.5" fill="none"/>
<text transform="translate(658.73,554.50) scale(1.0375,1)" style="font-family:'Liberation Sans',sans-serif;font-size:19.86px" fill="#000">4.0</text>
<text transform="translate(376.03,13.90) scale(1.0000,1)" style="font-family:'Liberation Sans',sans-serif;font-style:italic;font-size:18.84px" fill="#000">N</text>
<text transform="translate(372.91,592.70) scale(1.1132,1)" style="font-family:'Liberation Sans',sans-serif;font-style:italic;font-size:29.26px" fill="#000">r</text>
<text transform="translate(383.40,596.01) scale(1.0260,1)" style="font-family:'Liberation Sans',sans-serif;font-style:italic;font-size:19.08px" fill="#000">s</text>
<text transform="translate(17.00,200.11) rotate(-90) scale(1.0503,1)" style="font-family:'Liberation Sans',sans-serif;font-style:italic;font-size:19.54px" fill="#000">m</text>
<text transform="translate(11.05,179.00) rotate(-90) scale(1.0000,1)" style="font-family:'Liberation Sans',sans-serif;font-size:15.14px" fill="#000">*</text>
<text transform="translate(17.99,169.30) rotate(-90) scale(1.0132,1)" style="font-family:'Liberation Sans',sans-serif;font-size:20.82px" fill="#000">/</text>
<text transform="translate(17.00,163.21) rotate(-90) scale(1.0569,1)" style="font-family:'Liberation Sans',sans-serif;font-style:italic;font-size:19.54px" fill="#000">m</text>
<text transform="translate(17.00,437.21) rotate(-90) scale(1.0503,1)" style="font-family:'Liberation Sans',sans-serif;font-style:italic;font-size:19.54px" fill="#000">m</text>
<text transform="translate(11.05,416.10) rotate(-90) scale(1.0000,1)" style="font-family:'Liberation Sans',sans-serif;font-size:15.14px" fill="#000">*</text>
<text transform="translate(17.99,406.40) rotate(-90) scale(1.0132,1)" style="font-family:'Liberation Sans',sans-serif;font-size:20.82px" fill="#000">/</text>
<text transform="translate(17.00,400.31) rotate(-90) scale(1.0569,1)" style="font-family:'Liberation Sans',sans-serif;font-style:italic;font-size:19.54px" fill="#000">m</text>
</svg></body></html>
